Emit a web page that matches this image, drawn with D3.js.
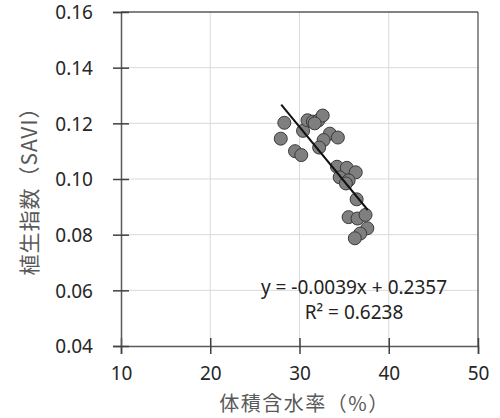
<!DOCTYPE html>
<html>
<head>
<meta charset="utf-8">
<script src="https://cdn.jsdelivr.net/npm/d3@7"></script>
<style>
  body { margin: 0; background: #fff; }
</style>
</head>
<body>
<div id="chart"></div>
<script>
const width = 500;
const height = 418;
const margin = {top: 12, right: 22, bottom: 72, left: 121};

// volumetric water content (%)
const waterContent = [28.3, 27.9, 29.5, 30.2, 30.4, 30.9, 31.5, 32.1, 32.6, 33.4, 34.3, 32.7, 32.2,
    34.2, 35.3, 36.3, 34.5, 35.5, 35.2, 36.4, 35.5, 36.5, 37.4, 37.6, 36.8, 36.2, 31.7];
// SAVI
const savi = [0.1202, 0.1145, 0.1100, 0.1086, 0.1173, 0.1211, 0.1206, 0.1210, 0.1228, 0.1163, 0.1149, 0.1140, 0.1113,
    0.1044, 0.1040, 0.1024, 0.1006, 0.0995, 0.0984, 0.0927, 0.0863, 0.0858, 0.0871, 0.0823, 0.0804, 0.0787, 0.1200];

const xTicks = [10, 20, 30, 40, 50];
const yTicks = [0.04, 0.06, 0.08, 0.10, 0.12, 0.14, 0.16];
const slope = -0.0039;
const intercept = 0.2357;
const trendRange = [27.95, 37.65];
const equationLines = ["y = -0.0039x + 0.2357", "R² = 0.6238"];

const svg = d3.create("svg")
    .attr("width", width)
    .attr("height", height);

const x = d3.scaleLinear()
    .domain([10, 50])
    .range([margin.left, width - margin.right]);

const y = d3.scaleLinear()
    .domain([0.04, 0.16])
    .range([height - margin.bottom, margin.top]);

// gridlines
svg.append("g")
    .selectAll("line")
    .data(xTicks.slice(1, -1))
    .join("line")
    .attr("x1", d => x(d)).attr("x2", d => x(d))
    .attr("y1", y(0.16)).attr("y2", y(0.04))
    .attr("stroke", "#d9d9d9")
    .attr("stroke-width", 1);

svg.append("g")
    .selectAll("line")
    .data(yTicks.slice(1, -1))
    .join("line")
    .attr("x1", x(10)).attr("x2", x(50))
    .attr("y1", d => y(d)).attr("y2", d => y(d))
    .attr("stroke", "#d9d9d9")
    .attr("stroke-width", 1);

// top and right frame
svg.append("line")
    .attr("x1", x(10)).attr("x2", x(50))
    .attr("y1", y(0.16)).attr("y2", y(0.16))
    .attr("stroke", "#595959").attr("stroke-width", 1.5);

svg.append("line")
    .attr("x1", x(50)).attr("x2", x(50))
    .attr("y1", y(0.16)).attr("y2", y(0.04))
    .attr("stroke", "#222").attr("stroke-width", 1);

// axes, ticks crossing the axis line
const xAxis = svg.append("g")
    .attr("transform", `translate(0,${y(0.04)})`)
    .call(d3.axisBottom(x).tickValues(xTicks).tickSize(8).tickPadding(13).tickFormat(d3.format("d")));
xAxis.selectAll(".tick line").attr("y1", -8);

const yAxis = svg.append("g")
    .attr("transform", `translate(${x(10)},0)`)
    .call(d3.axisLeft(y).tickValues(yTicks).tickSize(8).tickPadding(20).tickFormat(d3.format(".2f")));
yAxis.selectAll(".tick line").attr("x1", 8);

[xAxis, yAxis].forEach(g => {
    g.select(".domain").attr("stroke", "#595959").attr("stroke-width", 1.5);
    g.selectAll(".tick line").attr("stroke", "#404040").attr("stroke-width", 1.5);
    g.selectAll(".tick text")
        .attr("fill", "#262626")
        .attr("font-family", "'Noto Sans', sans-serif")
        .attr("font-size", "19px");
});
yAxis.selectAll(".tick text").attr("dy", "0.36em");

// points
svg.append("g")
    .selectAll("circle")
    .data(waterContent.map((w, i) => [w, savi[i]]))
    .join("circle")
    .attr("cx", d => x(d[0]))
    .attr("cy", d => y(d[1]))
    .attr("r", 6.5)
    .attr("fill", "#7f7f7f")
    .attr("stroke", "#3a3a3a")
    .attr("stroke-width", 1);

// trend line
svg.append("line")
    .attr("x1", x(trendRange[0]))
    .attr("y1", y(slope * trendRange[0] + intercept))
    .attr("x2", x(trendRange[1]))
    .attr("y2", y(slope * trendRange[1] + intercept))
    .attr("stroke", "#111")
    .attr("stroke-width", 2);

// equation
svg.append("g")
    .selectAll("text")
    .data(equationLines)
    .join("text")
    .attr("x", 354)
    .attr("y", (d, i) => 294 + i * 25)
    .attr("text-anchor", "middle")
    .attr("fill", "#222")
    .attr("font-family", "'Noto Sans', sans-serif")
    .attr("font-size", "19px")
    .text(d => d);

// axis titles
svg.append("text")
    .attr("x", (x(10) + x(50)) / 2 + 5)
    .attr("y", 411)
    .attr("text-anchor", "middle")
    .attr("fill", "#595959")
    .attr("font-family", "'Noto Sans CJK JP', sans-serif")
    .attr("font-size", "20px")
    .attr("letter-spacing", "1.5px")
    .text("体積含水率（%）");

svg.append("text")
    .attr("transform", `translate(37,${(y(0.04) + y(0.16)) / 2 + 7}) rotate(-90)`)
    .attr("text-anchor", "middle")
    .attr("fill", "#595959")
    .attr("font-family", "'Noto Sans CJK JP', sans-serif")
    .attr("font-size", "21px")
    .attr("letter-spacing", "1px")
    .text("植生指数（SAVI）");

d3.select("#chart").append(() => svg.node());
</script>
</body>
</html>
